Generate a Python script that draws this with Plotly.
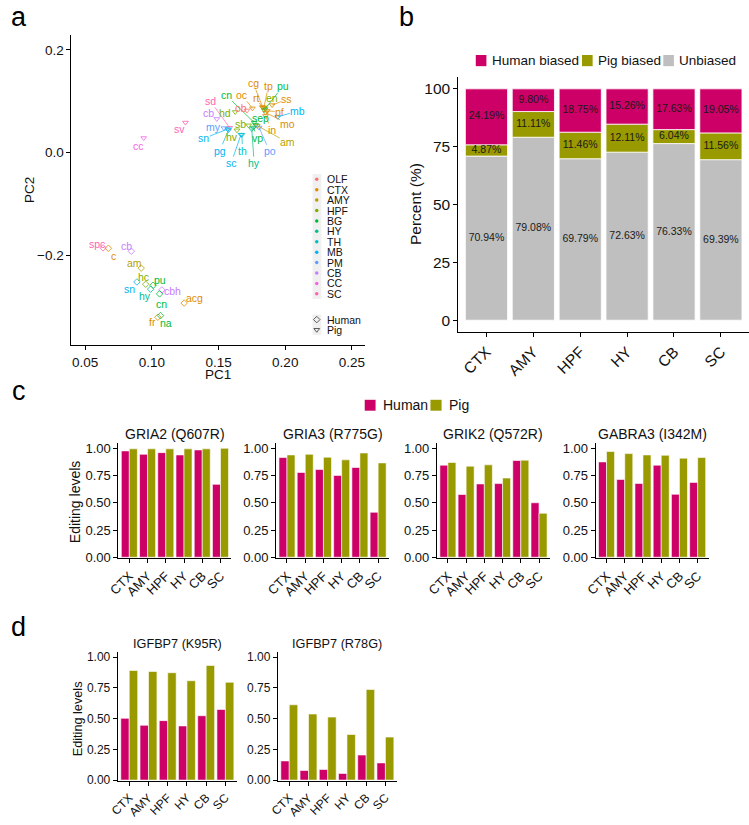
import plotly.graph_objects as go

W, H = 749, 825
FONT = "Liberation Sans, Arial, Helvetica, sans-serif"
INK = "#111111"
HUMAN_COL = "#CC0066"
PIG_COL = "#999900"
UNB_COL = "#BFBFBF"

# ---------------- Panel a data ----------------
regions = ["OLF", "CTX", "AMY", "HPF", "BG", "HY", "TH", "MB", "PM", "CB", "CC", "SC"]
region_colors = ["#F8766D", "#DE8C00", "#B79F00", "#7CAE00", "#00BA38", "#00C08B",
                 "#00BFC4", "#00B4F0", "#619CFF", "#C77CFF", "#F564E3", "#FF64B0"]

human_labels = ["spc", "c", "cb", "am", "hc", "sn", "pu", "hy", "cbh", "cn", "acg", "fr", "na"]
human_region = ["SC", "CTX", "CB", "AMY", "HPF", "MB", "BG", "HY", "CB", "BG", "CTX", "CTX", "BG"]
human_pc1 = [0.0634, 0.0674, 0.0846, 0.0920, 0.0954, 0.0888, 0.1010, 0.0991, 0.1075, 0.1058, 0.1242, 0.1045, 0.1065]
human_pc2 = [-0.1859, -0.1866, -0.1924, -0.2252, -0.2567, -0.2522, -0.2586, -0.2663, -0.2677, -0.2754, -0.2933, -0.3209, -0.3178]
human_lab_pc1 = [0.0589, 0.0710, 0.0807, 0.0873, 0.0936, 0.0831, 0.1058, 0.0949, 0.1158, 0.1069, 0.1318, 0.1003, 0.1106]
human_lab_pc2 = [-0.1776, -0.2007, -0.1828, -0.2156, -0.2418, -0.2663, -0.2484, -0.2793, -0.2708, -0.2947, -0.2837, -0.3306, -0.3319]
human_seg = [0, 0, 0, 0, 0, 0, 0, 0, 0, 0, 0, 0, 0]

pig_labels = ["cc", "sv", "sd", "cb", "my", "sn", "pg", "sc", "th", "hv", "sb", "hd", "cn", "oc", "ob",
              "cg", "tp", "pu", "rt", "en", "ss", "pf", "mb", "mo", "in", "am", "sep", "vp", "po", "hy"]
pig_region = ["CC", "SC", "SC", "CB", "PM", "MB", "MB", "MB", "TH", "HPF", "HPF", "HPF", "BG", "CTX", "OLF",
              "CTX", "CTX", "BG", "CTX", "HPF", "CTX", "CTX", "MB", "CTX", "CTX", "AMY", "BG", "BG", "PM", "HY"]
pig_pc1 = [0.0939, 0.1252, 0.1584, 0.1487, 0.1540, 0.1569, 0.1575, 0.1668, 0.1675, 0.1638, 0.1725, 0.1625,
           0.1767, 0.1754, 0.1713, 0.1832, 0.1840, 0.1843, 0.1828, 0.1850, 0.1902, 0.1865, 0.1944, 0.1852,
           0.1852, 0.1791, 0.1778, 0.1761, 0.1804, 0.1749]
pig_pc2 = [0.0283, 0.0584, 0.0482, 0.0655, 0.0476, 0.0457, 0.0437, 0.0347, 0.0347, 0.0433, 0.0530, 0.0790,
           0.0584, 0.0862, 0.0819, 0.0877, 0.0877, 0.0829, 0.0887, 0.0848, 0.0925, 0.0810, 0.0694, 0.0777,
           0.0713, 0.0520, 0.0539, 0.0487, 0.0487, 0.0457]
pig_lab_pc1 = [0.0900, 0.1208, 0.1437, 0.1423, 0.1462, 0.1390, 0.1508, 0.1594, 0.1680, 0.1601, 0.1665, 0.1545,
               0.1557, 0.1675, 0.1671, 0.1759, 0.1874, 0.1983, 0.1778, 0.1897, 0.2013, 0.1959, 0.2094, 0.2020,
               0.1897, 0.2018, 0.1815, 0.1791, 0.1882, 0.1767]
pig_lab_pc2 = [0.0121, 0.0457, 0.1008, 0.0761, 0.0501, 0.0275, 0.0032, -0.0207, 0.0038, 0.0294, 0.0563, 0.0771,
               0.1114, 0.1124, 0.0873, 0.1356, 0.1298, 0.1292, 0.1055, 0.1055, 0.1035, 0.0796, 0.0810, 0.0565,
               0.0437, 0.0198, 0.0669, 0.0283, 0.0024, -0.0207]
pig_seg = [0, 0, 1, 0, 0, 1, 1, 1, 1, 0, 0, 0, 1, 1, 0, 1, 1, 1, 1, 1, 1, 1, 1, 1, 1, 1, 1, 1, 1, 1]

pc1_ticks = [0.05, 0.10, 0.15, 0.20, 0.25]
pc2_ticks = [-0.2, 0.0, 0.2]

# ---------------- Panel b data ----------------
tissues = ["CTX", "AMY", "HPF", "HY", "CB", "SC"]
human_biased = [24.19, 9.80, 18.75, 15.26, 17.63, 19.05]
pig_biased = [4.87, 11.11, 11.46, 12.11, 6.04, 11.56]
unbiased = [70.94, 79.08, 69.79, 72.63, 76.33, 69.39]
percent_ticks = [0, 25, 50, 75, 100]

# ---------------- Panel c / d data ----------------
c_titles = ["GRIA2 (Q607R)", "GRIA3 (R775G)", "GRIK2 (Q572R)", "GABRA3 (I342M)"]
c_human = [
    [0.976, 0.945, 0.960, 0.939, 0.985, 0.669],
    [0.915, 0.778, 0.805, 0.751, 0.824, 0.413],
    [0.845, 0.576, 0.673, 0.676, 0.888, 0.500],
    [0.875, 0.714, 0.677, 0.845, 0.578, 0.687],
]
c_pig = [
    [0.995, 0.995, 0.995, 0.995, 0.995, 1.000],
    [0.939, 0.945, 0.918, 0.894, 0.957, 0.866],
    [0.870, 0.836, 0.848, 0.727, 0.891, 0.404],
    [0.970, 0.951, 0.939, 0.936, 0.909, 0.915],
]
d_titles = ["IGFBP7 (K95R)", "IGFBP7 (R78G)"]
d_human = [
    [0.503, 0.446, 0.484, 0.441, 0.524, 0.575],
    [0.156, 0.078, 0.086, 0.054, 0.204, 0.140],
]
d_pig = [
    [0.892, 0.884, 0.874, 0.809, 0.933, 0.796],
    [0.613, 0.538, 0.513, 0.371, 0.737, 0.350],
]
level_ticks = [0, 0.25, 0.5, 0.75, 1.0]


def px(x):
    return x / W


def py(y):
    return 1 - y / H


rc = dict(zip(regions, region_colors))
fig = go.Figure()
annotations = []
shapes = []

# ---------------- Panel a ----------------
fig.add_trace(go.Scatter(
    x=human_pc1, y=human_pc2, mode="markers", xaxis="x", yaxis="y",
    marker=dict(symbol="diamond-open", size=5, color=[rc[r] for r in human_region], line=dict(width=0.8)),
    showlegend=False, hoverinfo="skip"))
fig.add_trace(go.Scatter(
    x=pig_pc1, y=pig_pc2, mode="markers", xaxis="x", yaxis="y",
    marker=dict(symbol="triangle-down-open", size=5, color=[rc[r] for r in pig_region], line=dict(width=0.8)),
    showlegend=False, hoverinfo="skip"))


def add_labels(labels, regs, xs, ys, lxs, lys, segs):
    for lab, r, x, y, lx, ly, s in zip(labels, regs, xs, ys, lxs, lys, segs):
        col = rc[r]
        f = dict(family=FONT, size=10.5, color=col)
        if s:
            annotations.append(dict(x=x, y=y, ax=lx, ay=ly, xref="x", yref="y", axref="x", ayref="y",
                                    text=lab, showarrow=True, arrowhead=0, arrowwidth=0.7,
                                    arrowcolor=col, font=f, standoff=0, borderpad=0))
        else:
            annotations.append(dict(x=lx, y=ly, xref="x", yref="y", text=lab, showarrow=False,
                                    font=f, borderpad=0))


add_labels(human_labels, human_region, human_pc1, human_pc2, human_lab_pc1, human_lab_pc2, human_seg)
add_labels(pig_labels, pig_region, pig_pc1, pig_pc2, pig_lab_pc1, pig_lab_pc2, pig_seg)

# legend of panel a (helper pixel axis x9/y9)
key_x = 310.3
key_y0 = 179.0
key_dy = 10.52
shapes.append(dict(type="rect", xref="x9", yref="y9", x0=306, x1=315, y0=key_y0 - key_dy / 2,
                   y1=key_y0 + key_dy * 11.5, fillcolor="#F0F0F0", line=dict(width=0), layer="below"))
shapes.append(dict(type="rect", xref="x9", yref="y9", x0=306, x1=315, y0=315.5, y1=336.2,
                   fillcolor="#F0F0F0", line=dict(width=0), layer="below"))
fig.add_trace(go.Scatter(
    x=[key_x] * len(regions), y=[key_y0 + i * key_dy for i in range(len(regions))],
    mode="markers", xaxis="x9", yaxis="y9",
    marker=dict(symbol="circle", size=3.5, color=region_colors), showlegend=False, hoverinfo="skip"))
fig.add_trace(go.Scatter(
    x=[key_x, key_x], y=[320.7, 331.0], mode="markers", xaxis="x9", yaxis="y9",
    marker=dict(symbol=["diamond-open", "triangle-down-open"], size=5, color="#333333", line=dict(width=0.8)),
    showlegend=False, hoverinfo="skip"))
for i, r in enumerate(regions):
    annotations.append(dict(x=px(318.3), y=py(key_y0 + i * key_dy), xref="paper", yref="paper",
                            text=r, showarrow=False, xanchor="left", yanchor="middle",
                            font=dict(family=FONT, size=10.5, color=INK)))
for t, yy in zip(["Human", "Pig"], [320.7, 331.0]):
    annotations.append(dict(x=px(318.3), y=py(yy), xref="paper", yref="paper", text=t,
                            showarrow=False, xanchor="left", yanchor="middle",
                            font=dict(family=FONT, size=10.5, color=INK)))

# ---------------- Panel b ----------------
pig_base = unbiased
human_base = [u + p for u, p in zip(unbiased, pig_biased)]
for vals, base, col in [(unbiased, [0] * 6, UNB_COL), (pig_biased, pig_base, PIG_COL),
                        (human_biased, human_base, HUMAN_COL)]:
    fig.add_trace(go.Bar(x=tissues, y=vals, base=base, width=0.9, xaxis="x2", yaxis="y2",
                         marker=dict(color=col, line=dict(color="white", width=0.8)),
                         showlegend=False, hoverinfo="skip"))
for vals, base in [(unbiased, [0] * 6), (pig_biased, pig_base), (human_biased, human_base)]:
    fig.add_trace(go.Scatter(x=tissues, y=[b + v / 2 for b, v in zip(base, vals)], mode="text",
                             text=["%.2f%%" % v for v in vals], xaxis="x2", yaxis="y2",
                             textfont=dict(family=FONT, size=10.5, color="#1a1a1a"),
                             showlegend=False, hoverinfo="skip"))

# legend b
for (x0, x1, tx, t, col) in [(471.7, 482.5, 486.5, "Human biased", HUMAN_COL),
                             (579.5, 590.3, 593.5, "Pig biased", PIG_COL),
                             (662.0, 672.8, 676.0, "Unbiased", UNB_COL)]:
    shapes.append(dict(type="rect", xref="x9", yref="y9", x0=x0, x1=x1, y0=53.5, y1=64.8,
                       fillcolor=col, line=dict(width=0)))
    annotations.append(dict(x=px(tx), y=py(59.3), xref="paper", yref="paper", text=t, showarrow=False,
                            xanchor="left", yanchor="middle", font=dict(family=FONT, size=13.5, color=INK)))

# ---------------- Panel c / d ----------------
c_dom = [(109.0, 223.7), (269.0, 383.7), (432.3, 547.0), (593.3, 708.0)]
d_dom = [(108.3, 229.3), (270.7, 391.7)]
axis_idx = 3
panel_axes = []
for hv, pv in list(zip(c_human, c_pig)) + list(zip(d_human, d_pig)):
    xa, ya = "x%d" % axis_idx, "y%d" % axis_idx
    fig.add_trace(go.Bar(x=tissues, y=hv, offset=-0.44, width=0.44, xaxis=xa, yaxis=ya,
                         marker=dict(color=HUMAN_COL, line=dict(color="white", width=0.6)),
                         showlegend=False, hoverinfo="skip"))
    fig.add_trace(go.Bar(x=tissues, y=pv, offset=0.0, width=0.44, xaxis=xa, yaxis=ya,
                         marker=dict(color=PIG_COL, line=dict(color="white", width=0.6)),
                         showlegend=False, hoverinfo="skip"))
    panel_axes.append(axis_idx)
    axis_idx += 1

# legend c
for (x0, x1, tx, t, col) in [(359.0, 370.0, 375.3, "Human", HUMAN_COL),
                             (425.7, 437.0, 442.0, "Pig", PIG_COL)]:
    shapes.append(dict(type="rect", xref="x9", yref="y9", x0=x0, x1=x1, y0=401.7, y1=412.7,
                       fillcolor=col, line=dict(width=0)))
    annotations.append(dict(x=px(tx), y=py(407.2), xref="paper", yref="paper", text=t, showarrow=False,
                            xanchor="left", yanchor="middle", font=dict(family=FONT, size=14, color=INK)))

# subplot titles
for (a, b), t in zip(c_dom, c_titles):
    annotations.append(dict(x=px((a + b) / 2), y=py(436), xref="paper", yref="paper", text=t,
                            showarrow=False, xanchor="center", yanchor="middle",
                            font=dict(family=FONT, size=14, color=INK)))
for (a, b), t in zip(d_dom, d_titles):
    annotations.append(dict(x=px((a + b) / 2), y=py(648), xref="paper", yref="paper", text=t,
                            showarrow=False, xanchor="center", yanchor="middle",
                            font=dict(family=FONT, size=12.7, color=INK)))

# axis titles
for t, x, y, s, ang in [("PC1", 210, 376, 13.5, 0), ("PC2", 18, 190, 13.5, -90),
                        ("Percent (%)", 410, 204, 15.5, -90),
                        ("Editing levels", 65, 505, 14, -90), ("Editing levels", 68.3, 724, 12.7, -90)]:
    annotations.append(dict(x=px(x), y=py(y), xref="paper", yref="paper", text=t, showarrow=False,
                            xanchor="center", yanchor="middle", textangle=ang,
                            font=dict(family=FONT, size=s, color=INK)))

# panel letters
for t, x, y in [("a", 8, 15), ("b", 401, 15), ("c", 8, 393), ("d", 8, 631)]:
    annotations.append(dict(x=px(x), y=py(y), xref="paper", yref="paper", text=t, showarrow=False,
                            xanchor="center", yanchor="middle",
                            font=dict(family=FONT, size=27, color="#000000")))

# ---------------- Layout ----------------
def ax_style(size):
    return dict(showline=True, linecolor="#000000", linewidth=1, ticks="outside", ticklen=4,
                tickwidth=1, tickcolor="#000000", showgrid=False, zeroline=False,
                tickfont=dict(family=FONT, size=size, color=INK), fixedrange=True)


layout = dict(
    width=W, height=H, margin=dict(l=0, r=0, t=0, b=0),
    paper_bgcolor="white", plot_bgcolor="rgba(0,0,0,0)",
    barmode="overlay", showlegend=False,
    font=dict(family=FONT, color=INK),
    annotations=annotations, shapes=shapes,
)
layout["xaxis"] = dict(domain=[px(61.3), px(359.3)], range=[0.0397, 0.2598], tickvals=pc1_ticks,
                       tickformat=".2f", anchor="y", **ax_style(13.5))
layout["yaxis"] = dict(domain=[py(346.7), py(33.3)], range=[-0.3757, 0.229], tickvals=pc2_ticks,
                       tickformat=".1f", anchor="x", **ax_style(13.5))
layout["xaxis2"] = dict(domain=[px(454), px(749)], type="category", categoryorder="array",
                        categoryarray=tissues, range=[-0.6, 5.6], tickangle=-45, anchor="y2",
                        **ax_style(15.5))
layout["yaxis2"] = dict(domain=[py(333), py(76)], range=[-5, 105], tickvals=percent_ticks,
                        anchor="x2", **ax_style(15.5))
doms = c_dom + d_dom
for k, idx in enumerate(panel_axes):
    a, b = doms[k]
    is_c = k < 4
    size = 13 if is_c else 12
    ydom = [py(561.8), py(445.7)] if is_c else [py(786.7), py(656.7)]
    yr = [-0.01, 1.045] if is_c else [-0.008, 1.04]
    layout["xaxis%d" % idx] = dict(domain=[px(a), px(b)], type="category", categoryorder="array",
                                   categoryarray=tissues, range=[-0.6, 5.6], tickangle=-45,
                                   anchor="y%d" % idx, **ax_style(size))
    layout["yaxis%d" % idx] = dict(domain=ydom, range=yr, tickvals=level_ticks, tickformat=".2f",
                                   anchor="x%d" % idx, **ax_style(size))
layout["xaxis9"] = dict(domain=[0, 1], range=[0, W], visible=False, anchor="y9", fixedrange=True)
layout["yaxis9"] = dict(domain=[0, 1], range=[H, 0], visible=False, anchor="x9", fixedrange=True)

fig.update_layout(**layout)
fig.write_html(
    "out.html",
    config={"displayModeBar": False},
    post_script="document.documentElement.style.margin='0';document.documentElement.style.overflow='hidden';"
                "document.body.style.margin='0';document.body.style.padding='0';document.body.style.overflow='hidden';",
)
